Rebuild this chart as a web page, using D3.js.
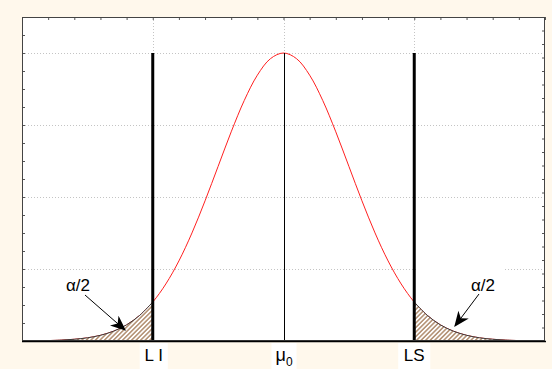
<!DOCTYPE html>
<html>
<head>
<meta charset="utf-8">
<script src="https://cdn.jsdelivr.net/npm/d3@7"></script>
<style>
  html, body { margin: 0; padding: 0; background: #fff8ec; }
  svg { display: block; }
  text { font-family: "Liberation Sans", Arial, sans-serif; }
</style>
</head>
<body>
<svg id="chart" width="552" height="369"></svg>
<script>
// ---- data ----
const curveX = [-3.6,-3.4,-3.2,-3.0,-2.8,-2.6,-2.4,-2.2,-2.0,-1.8,-1.6,-1.4,-1.2,-1.0,-0.8,-0.6,-0.4,-0.2,0,
                 0.2,0.4,0.6,0.8,1.0,1.2,1.4,1.6,1.8,2.0,2.2,2.4,2.6,2.8,3.0,3.2,3.4,3.6];
const curveY = [0.006,0.012,0.024,0.044,0.079,0.136,0.224,0.356,0.541,0.792,1.112,1.501,1.947,2.426,2.905,3.341,3.692,3.921,4.0,
                3.921,3.692,3.341,2.905,2.426,1.947,1.501,1.112,0.792,0.541,0.356,0.224,0.136,0.079,0.044,0.024,0.012,0.006];
const limitLabels = ["L I", "LS"];
const limitX = [-2, 2];
const meanX = 0;
const peakY = 4;
const gridXValues = [-2, 0, 2];
const gridYValues = [1, 2, 3, 4];
const topTickValues = [-4,-3.6,-3.2,-2.8,-2.4,-2,-1.6,-1.2,-0.8,-0.4,0,0.4,0.8,1.2,1.6,2,2.4,2.8,3.2,3.6,4];
const leftTickValues = [0.25,0.5,0.75,1,1.25,1.5,1.75,2,2.25,2.5,2.75,3,3.25,3.5,3.75,4,4.25];
const rightTickValues = [1,2,3,4,5,6,7,8,9,10,11,12,13,14,15,16,17,18,19,20,21,22,23];
const tailLabel = "α/2";

// ---- layout ----
const svg = d3.select("#chart");
const L = 22, R = 545, T = 17, B = 341;
const x = d3.scaleLinear().domain([-4, 4]).range([L, R]);
const y = d3.scaleLinear().domain([0, 4.5]).range([B, T]);
const yRight = d3.scaleLinear().domain([0, 24]).range([B, T]);

const pts = curveX.map((d, i) => ({x: d, y: curveY[i]}));

const defs = svg.append("defs");
const pat = defs.append("pattern").attr("id", "hatch")
  .attr("patternUnits", "userSpaceOnUse").attr("width", 3.2).attr("height", 3.2)
  .attr("patternTransform", "rotate(45)");
pat.append("rect").attr("width", 3.2).attr("height", 3.2).attr("fill", "#fff");
pat.append("line").attr("x1", 0.8).attr("y1", 0).attr("x2", 0.8).attr("y2", 3.2)
  .attr("stroke", "#a57c5a").attr("stroke-width", 1.3);

defs.append("marker").attr("id", "arrow")
  .attr("viewBox", "0 0 12 10").attr("refX", 11).attr("refY", 5)
  .attr("markerWidth", 16).attr("markerHeight", 13).attr("markerUnits", "userSpaceOnUse")
  .attr("orient", "auto")
  .append("path").attr("d", "M0,0 L12,5 L0,10 L3.5,5 Z").attr("fill", "#000");

// plot background
svg.append("rect").attr("x", L).attr("y", T).attr("width", R - L).attr("height", B - T).attr("fill", "#fff");

// gridlines
const grid = svg.append("g").attr("stroke", "#c4c4c4").attr("stroke-width", 1).attr("stroke-dasharray", "1,2");
grid.selectAll(".gx").data(gridXValues).join("line")
  .attr("x1", d => Math.round(x(d)) + 0.5).attr("x2", d => Math.round(x(d)) + 0.5)
  .attr("y1", T).attr("y2", B);
grid.selectAll(".gy").data(gridYValues).join("line")
  .attr("y1", d => Math.round(y(d)) + 0.5).attr("y2", d => Math.round(y(d)) + 0.5)
  .attr("x1", L).attr("x2", R);

// axes (inward ticks, no labels)
const axTop = svg.append("g").attr("transform", `translate(0,${T})`)
  .call(d3.axisTop(x).tickValues(topTickValues).tickSize(-3).tickFormat(""));
const axLeft = svg.append("g").attr("transform", `translate(${L},0)`)
  .call(d3.axisLeft(y).tickValues(leftTickValues).tickSize(-3).tickFormat(""));
const axRight = svg.append("g").attr("transform", `translate(${R},0)`)
  .call(d3.axisRight(yRight).tickValues(rightTickValues).tickSize(-3).tickFormat(""));
[axTop, axLeft, axRight].forEach(g => {
  g.select(".domain").remove();
  g.selectAll("line").attr("stroke", "#555");
});

// white box behind right label (hides the gridline there)
svg.append("rect").attr("x", 417).attr("y", 262).attr("width", 88).attr("height", 34).attr("fill", "#fff");

// normal curve
const line = d3.line().x(d => x(d.x)).y(d => y(d.y)).curve(d3.curveCatmullRom);
svg.append("path").datum(pts).attr("d", line)
  .attr("fill", "none").attr("stroke", "#ff2020").attr("stroke-width", 1);

// hatched tails
const area = d3.area().x(d => x(d.x)).y0(y(0)).y1(d => y(d.y)).curve(d3.curveCatmullRom);
const leftTail = pts.filter(d => d.x <= limitX[0]);
const rightTail = pts.filter(d => d.x >= limitX[1]);
[leftTail, rightTail].forEach(t => {
  svg.append("path").datum(t).attr("d", area).attr("fill", "url(#hatch)");
  svg.append("path").datum(t).attr("d", line).attr("fill", "none")
    .attr("stroke", "#3a3a3a").attr("stroke-width", 1);
});

// mean line
svg.append("line").attr("x1", Math.round(x(meanX)) + 0.5).attr("x2", Math.round(x(meanX)) + 0.5)
  .attr("y1", y(peakY)).attr("y2", B).attr("stroke", "#000").attr("stroke-width", 1);

// limit lines
svg.selectAll(".lim").data(limitX).join("line")
  .attr("x1", d => x(d)).attr("x2", d => x(d))
  .attr("y1", y(peakY)).attr("y2", B)
  .attr("stroke", "#000").attr("stroke-width", 3);

// frame
svg.append("rect").attr("x", L + 0.5).attr("y", T + 0.5).attr("width", R - L - 1).attr("height", B - T - 1)
  .attr("fill", "none").attr("stroke", "#444").attr("stroke-width", 1);
svg.append("line").attr("x1", L).attr("x2", R + 1).attr("y1", B + 0.5).attr("y2", B + 0.5)
  .attr("stroke", "#000").attr("stroke-width", 1.5);

// bottom labels with white boxes
const labelW = [28, 32];
limitX.forEach((v, i) => {
  svg.append("rect").attr("x", x(v) - labelW[i] / 2 + (i === 0 ? 1 : 0)).attr("y", 343)
    .attr("width", labelW[i]).attr("height", 26).attr("fill", "#fff");
  svg.append("text").attr("x", x(v) + (i === 0 ? 1 : 0)).attr("y", 361).attr("text-anchor", "middle")
    .attr("font-size", 17).attr("fill", "#000").text(limitLabels[i]);
});
svg.append("rect").attr("x", x(meanX) - 12).attr("y", 343).attr("width", 25).attr("height", 26).attr("fill", "#fff");
const mu = svg.append("text").attr("x", x(meanX) - 8).attr("y", 361).attr("font-size", 18).attr("fill", "#000");
mu.append("tspan").text("μ");
mu.append("tspan").attr("font-size", 12).attr("dy", 5).text("0");

// alpha/2 annotations with arrows
svg.append("text").attr("x", 66).attr("y", 291).attr("font-size", 17).attr("fill", "#000").text(tailLabel);
svg.append("line").attr("x1", 85).attr("y1", 295).attr("x2", 125).attr("y2", 330)
  .attr("stroke", "#000").attr("stroke-width", 1).attr("marker-end", "url(#arrow)");
svg.append("text").attr("x", 471).attr("y", 291).attr("font-size", 17).attr("fill", "#000").text(tailLabel);
svg.append("line").attr("x1", 479).attr("y1", 294).attr("x2", 455).attr("y2", 326)
  .attr("stroke", "#000").attr("stroke-width", 1).attr("marker-end", "url(#arrow)");
</script>
</body>
</html>
